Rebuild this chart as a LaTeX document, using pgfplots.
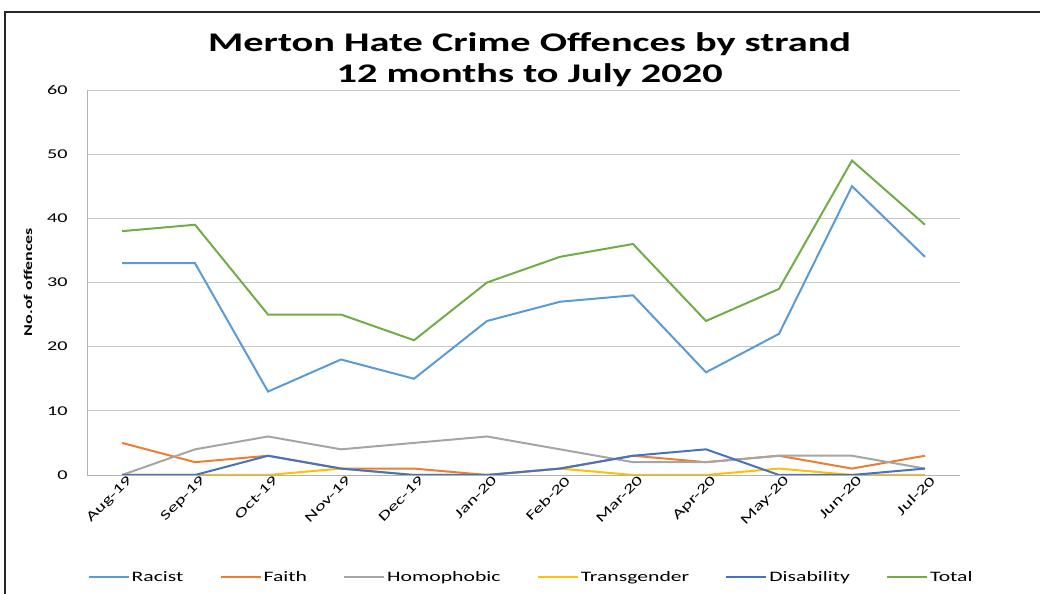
\documentclass[border=0pt]{standalone}
\usepackage{pgfplots}
\pgfplotsset{compat=1.18}
\usepackage{fontspec}
\setmainfont{Carlito}[FakeStretch=1.5]
\definecolor{cRacist}{RGB}{91,155,213}
\definecolor{cFaith}{RGB}{237,125,49}
\definecolor{cHomo}{RGB}{165,165,165}
\definecolor{cTrans}{RGB}{255,192,0}
\definecolor{cDis}{RGB}{68,114,196}
\definecolor{cTotal}{RGB}{112,173,71}
\begin{document}
\begin{tikzpicture}[x=1bp,y=1bp]
\useasboundingbox (0,0) rectangle (1040,594);
\draw[black!85, line width=1.2bp] (5,0) -- (5,582) -- (1040,582);
\begin{axis}[
  at={(87bp,119bp)}, anchor=south west,
  scale only axis, width=873bp, height=385bp,
  xmin=-0.48, xmax=11.48, ymin=0, ymax=60,
  ytick={0,10,...,60},
  xtick={0,...,11},
  xticklabels={Aug-19,Sep-19,Oct-19,Nov-19,Dec-19,Jan-20,Feb-20,Mar-20,Apr-20,May-20,Jun-20,Jul-20},
  x tick label style={rotate=45, anchor=north east, font=\fontsize{13.5}{15}\selectfont, inner sep=1pt, xshift=4bp, yshift=-2bp},
  y tick label style={font=\fontsize{13.5}{15}\selectfont, xshift=-16bp},
  /pgf/number format/assume math mode=true,
  axis lines=left, axis line style={draw=black!30, -},
  ymajorgrids, grid style={draw=black!22, line width=0.8bp},
  major tick length=0pt,
  every axis plot/.append style={line width=2bp, mark=none},
  legend style={at={(444bp,-102bp)}, anchor=center, draw=none, legend columns=6,
    font=\fontsize{14.5}{16}\selectfont, /tikz/every even column/.append style={column sep=34bp},
    /tikz/every odd column/.append style={column sep=0bp}},
  legend cell align=left,
  legend image code/.code={\draw[#1, line width=2.2bp] (0,0) -- (40bp,0);},
  title style={font=\bfseries\fontsize{27}{31}\selectfont, align=center, at={(0.507,1)}, anchor=south, yshift=-6bp},
  title={Merton Hate Crime Offences by strand\\12 months to July 2020},
]
\addplot[cRacist] coordinates {(0,33)(1,33)(2,13)(3,18)(4,15)(5,24)(6,27)(7,28)(8,16)(9,22)(10,45)(11,34)};
\addlegendentry{Racist}
\addplot[cFaith] coordinates {(0,5)(1,2)(2,3)(3,1)(4,1)(5,0)(6,1)(7,3)(8,2)(9,3)(10,1)(11,3)};
\addlegendentry{Faith}
\addplot[cHomo] coordinates {(0,0)(1,4)(2,6)(3,4)(4,5)(5,6)(6,4)(7,2)(8,2)(9,3)(10,3)(11,1)};
\addlegendentry{Homophobic}
\addplot[cTrans] coordinates {(0,0)(1,0)(2,0)(3,1)(4,0)(5,0)(6,1)(7,0)(8,0)(9,1)(10,0)(11,0)};
\addlegendentry{Transgender}
\addplot[cDis] coordinates {(0,0)(1,0)(2,3)(3,1)(4,0)(5,0)(6,1)(7,3)(8,4)(9,0)(10,0)(11,1)};
\addlegendentry{Disability}
\addplot[cTotal] coordinates {(0,38)(1,39)(2,25)(3,25)(4,21)(5,30)(6,34)(7,36)(8,24)(9,29)(10,49)(11,39)};
\addlegendentry{Total}
\end{axis}
\node[rotate=90, font=\bfseries\fontsize{12}{14}\selectfont] at (28,312) {No.of offences};
\end{tikzpicture}
\end{document}
